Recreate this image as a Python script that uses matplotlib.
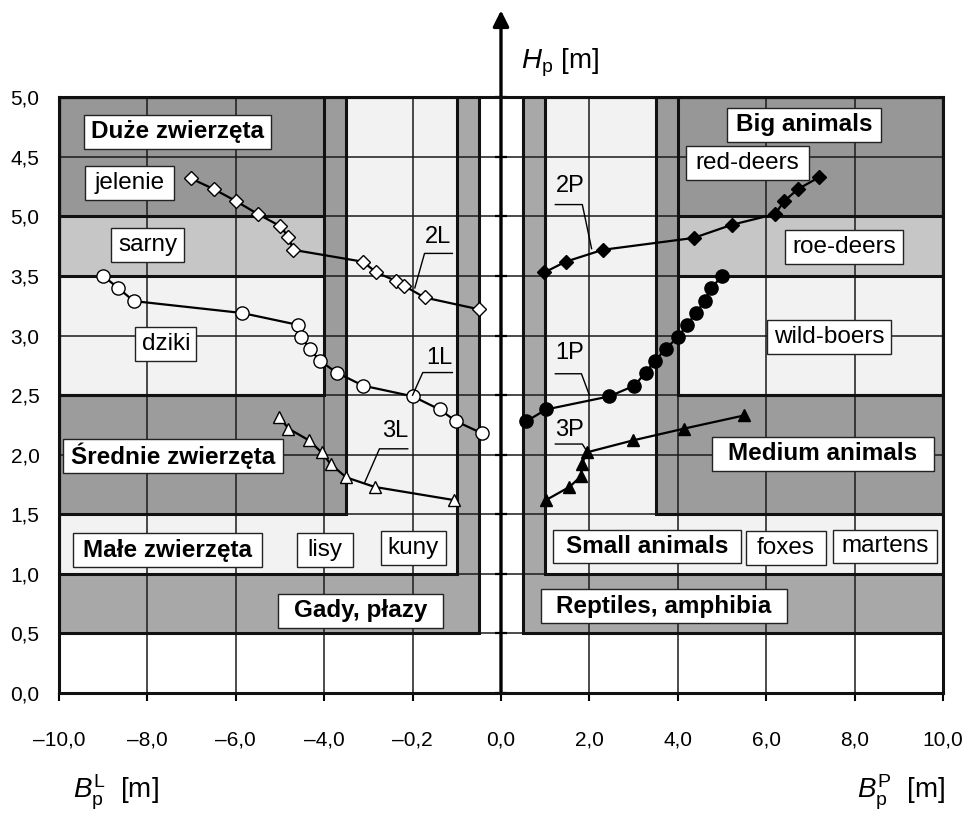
import matplotlib
matplotlib.use("Agg")
import matplotlib.pyplot as plt
from matplotlib.patches import Rectangle

plt.rcParams['font.family'] = ['Liberation Sans', 'DejaVu Sans']
plt.rcParams['mathtext.fontset'] = 'custom'
plt.rcParams['mathtext.rm'] = 'Liberation Sans'
plt.rcParams['mathtext.it'] = 'Liberation Sans:italic'

# tick values / labels (as printed in the original)
x_ticks = [-10, -8, -6, -4, -2, 0, 2, 4, 6, 8, 10]
x_labels = ['–10,0', '–8,0', '–6,0', '–4,0', '–0,2', '0,0',
            '2,0', '4,0', '6,0', '8,0', '10,0']
y_ticks = [0.0, 0.5, 1.0, 1.5, 2.0, 2.5, 3.0, 3.5, 4.0, 4.5, 5.0]
y_labels = ['0,0', '0,5', '1,0', '1,5', '2,0', '2,5', '3,0', '3,5',
            '5,0', '4,5', '5,0']

# zones (same on both sides): |x| where the zone begins, lower height
zone_inner = [0.5, 1.0, 3.5, 4.0]
zone_bottom = [0.5, 1.0, 1.5, 2.5]
zone_colors = ['#a8a8a8', '#f2f2f2', '#9c9c9c', None]
# big-animal zone split into bands
band_edges = [2.5, 3.5, 4.0, 5.0]
band_colors = ['#f2f2f2', '#c6c6c6', '#979797']

# curves, left side (open markers)
l1_x = [-9.00, -8.66, -8.31, -5.86, -4.59, -4.52, -4.33, -4.10, -3.72,
        -3.12, -1.99, -1.39, -1.01, -0.43]
l1_y = [3.50, 3.40, 3.29, 3.19, 3.09, 2.99, 2.89, 2.79, 2.69, 2.58,
        2.49, 2.38, 2.28, 2.18]
l2_x = [-7.02, -6.50, -6.00, -5.50, -5.00, -4.81, -4.70, -3.12, -2.82,
        -2.38, -2.20, -1.73, -0.49]
l2_y = [4.32, 4.23, 4.13, 4.02, 3.92, 3.83, 3.72, 3.62, 3.53, 3.46,
        3.42, 3.32, 3.22]
l3_x = [-5.02, -4.81, -4.34, -4.06, -3.85, -3.50, -2.86, -1.07]
l3_y = [2.32, 2.22, 2.12, 2.02, 1.92, 1.81, 1.73, 1.62]

# curves, right side (filled markers)
p1_x = [0.57, 1.02, 2.45, 3.02, 3.27, 3.49, 3.73, 4.01, 4.21, 4.41,
        4.61, 4.75, 5.01]
p1_y = [2.28, 2.38, 2.49, 2.58, 2.69, 2.79, 2.89, 2.99, 3.09, 3.19,
        3.29, 3.40, 3.50]
p2_x = [0.98, 1.46, 2.30, 4.36, 5.22, 6.20, 6.41, 6.72, 7.20]
p2_y = [3.53, 3.62, 3.72, 3.82, 3.93, 4.02, 4.13, 4.23, 4.33]
p3_x = [1.02, 1.55, 1.81, 1.83, 1.94, 2.98, 4.15, 5.50]
p3_y = [1.62, 1.73, 1.82, 1.92, 2.02, 2.12, 2.22, 2.33]

# boxed labels: text, centre x, centre y, box width, bold
box_labels = [
    ('Duże zwierzęta', -7.31, 4.71, 4.23, True),
    ('jelenie', -8.41, 4.28, 2.01, False),
    ('sarny', -7.99, 3.76, 1.65, False),
    ('dziki', -7.58, 2.93, 1.38, False),
    ('Średnie zwierzęta', -7.42, 1.99, 4.97, True),
    ('Małe zwierzęta', -7.54, 1.20, 4.27, True),
    ('lisy', -3.99, 1.20, 1.27, False),
    ('kuny', -1.98, 1.22, 1.47, False),
    ('Gady, płazy', -3.18, 0.69, 3.75, True),
    ('Big animals', 6.86, 4.77, 3.48, True),
    ('red-deers', 5.57, 4.45, 2.78, False),
    ('roe-deers', 7.76, 3.74, 2.67, False),
    ('wild-boers', 7.42, 2.99, 2.82, False),
    ('Medium animals', 7.28, 2.01, 5.02, True),
    ('Small animals', 3.31, 1.23, 4.25, True),
    ('foxes', 6.45, 1.22, 1.81, False),
    ('martens', 8.69, 1.23, 2.37, False),
    ('Reptiles, amphibia', 3.69, 0.73, 5.58, True),
]

# curve names with leader lines: name, text pos, bar start, bar end, tip
curve_tags = [
    ('2L', (-1.42, 3.83), (-1.73, 3.69), (-1.10, 3.69), (-1.95, 3.40)),
    ('1L', (-1.39, 2.81), (-1.77, 2.69), (-1.10, 2.69), (-2.00, 2.50)),
    ('3L', (-2.40, 2.20), (-2.75, 2.05), (-2.11, 2.05), (-3.08, 1.77)),
    ('2P', (1.56, 4.26), (1.84, 4.10), (1.23, 4.10), (2.05, 3.73)),
    ('1P', (1.56, 2.85), (1.82, 2.68), (1.23, 2.68), (2.00, 2.50)),
    ('3P', (1.56, 2.21), (1.84, 2.09), (1.23, 2.09), (1.96, 2.02)),
]

fig = plt.figure(figsize=(9.64, 8.16), dpi=100)
ax = fig.add_axes([0.0612, 0.1507, 0.9170, 0.7300])
ax.set_xlim(-10, 10)
ax.set_ylim(0, 5)

for side in (-1, 1):
    for inner, bottom, col in zip(zone_inner, zone_bottom, zone_colors):
        x0 = min(side * inner, side * 10)
        w = 10 - inner
        if col is not None:
            ax.add_patch(Rectangle((x0, bottom), w, 5 - bottom,
                                   facecolor=col, edgecolor='none', zorder=0.5))
        ax.add_patch(Rectangle((x0, bottom), w, 5 - bottom, fill=False,
                               edgecolor='#111111', lw=2.2, zorder=2))
    inner = zone_inner[-1]
    x0 = min(side * inner, side * 10)
    for b0, b1, col in zip(band_edges[:-1], band_edges[1:], band_colors):
        ax.add_patch(Rectangle((x0, b0), 10 - inner, b1 - b0,
                               facecolor=col, edgecolor='none', zorder=0.6))
        ax.plot([x0, x0 + 10 - inner], [b0, b0], color='#111111',
                lw=2.2, zorder=2, solid_capstyle='butt')

ax.set_xticks(x_ticks)
ax.set_xticklabels(x_labels)
ax.set_yticks(y_ticks)
ax.set_yticklabels(y_labels)
ax.set_axisbelow('line')
ax.grid(True, color='#1a1a1a', lw=1.1)
ax.tick_params(axis='x', direction='out', length=6, width=1.5,
               pad=21, labelsize=15)
ax.tick_params(axis='y', length=0, pad=14, labelsize=15)
for sp in ax.spines.values():
    sp.set_linewidth(2.2)
    sp.set_color('#111111')

# vertical axis with arrow and its small ticks
ax.annotate('', xy=(0, 5.73), xytext=(0, 0),
            arrowprops=dict(arrowstyle='-|>', lw=2.4, color='black',
                            mutation_scale=24, shrinkA=0, shrinkB=0),
            annotation_clip=False, zorder=2.5)
ax.plot([0] * len(y_ticks), y_ticks, linestyle='none', marker='_',
        ms=9, mew=1.6, color='black', zorder=2.5, clip_on=False)
ax.text(0.45, 5.29, r'$H_{\mathrm{p}}$ [m]', fontsize=20,
        ha='left', va='center')

open_style = dict(color='black', lw=1.6, mfc='white', mec='black',
                  mew=1.0, zorder=3)
fill_style = dict(color='black', lw=1.6, mfc='black', mec='black',
                  mew=1.0, zorder=3)
ax.plot(l2_x, l2_y, marker='D', ms=7, **open_style)
ax.plot(l1_x, l1_y, marker='o', ms=9.5, **open_style)
ax.plot(l3_x, l3_y, marker='^', ms=9, **open_style)
ax.plot(p2_x, p2_y, marker='D', ms=7, **fill_style)
ax.plot(p1_x, p1_y, marker='o', ms=9.5, **fill_style)
ax.plot(p3_x, p3_y, marker='^', ms=9, **fill_style)

for name, tpos, bar0, bar1, tip in curve_tags:
    ax.text(tpos[0], tpos[1], name, fontsize=17, ha='center', va='center',
            zorder=4)
    ax.plot([bar1[0], bar0[0], tip[0]], [bar1[1], bar0[1], tip[1]],
            color='black', lw=1.0, zorder=3.5)

box_h = 0.285
for text, cx, cy, w, bold in box_labels:
    ax.add_patch(Rectangle((cx - w / 2, cy - box_h / 2), w, box_h,
                           facecolor='white', edgecolor='#222222',
                           lw=1.0, zorder=4))
    ax.text(cx, cy, text, fontsize=17.5, ha='center', va='center',
            fontweight='bold' if bold else 'normal', zorder=5)

fig.text(73 / 964, 1 - 792 / 816, r'$B_{\mathrm{p}}^{\mathrm{L}}$  [m]',
         fontsize=20, ha='left', va='center')
fig.text(857 / 964, 1 - 792 / 816, r'$B_{\mathrm{p}}^{\mathrm{P}}$  [m]',
         fontsize=20, ha='left', va='center')

fig.savefig('out.png', dpi=100)
